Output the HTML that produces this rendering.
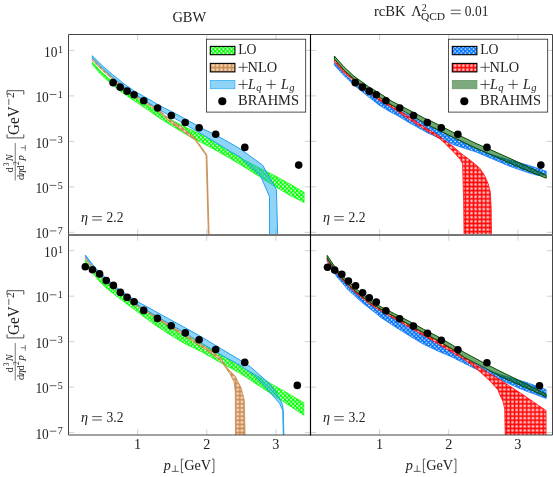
<!DOCTYPE html>
<html><head><meta charset="utf-8"><title>plot</title>
<style>
html,body{margin:0;padding:0;background:#fff;}
body{width:553px;height:477px;overflow:hidden;}
svg{display:block;will-change:transform;}
text{font-family:"Liberation Serif",serif;fill:#222;}
.it{font-style:italic;}
</style></head><body>
<svg width="553" height="477" viewBox="0 0 553 477">
<defs>
<pattern id="pg" patternUnits="userSpaceOnUse" width="4.1" height="4.1"><rect width="4.1" height="4.1" fill="#00ff00"/><circle cx="2.05" cy="0" r="0.95" fill="#f0fff0"/><circle cx="2.05" cy="4.1" r="0.95" fill="#f0fff0"/><circle cx="0" cy="2.05" r="0.95" fill="#f0fff0"/><circle cx="4.1" cy="2.05" r="0.95" fill="#f0fff0"/></pattern>
<pattern id="pb" patternUnits="userSpaceOnUse" width="4.1" height="4.1"><rect width="4.1" height="4.1" fill="#0676fa"/><circle cx="2.05" cy="0" r="0.85" fill="#dfeaff"/><circle cx="2.05" cy="4.1" r="0.85" fill="#dfeaff"/><circle cx="0" cy="2.05" r="0.85" fill="#dfeaff"/><circle cx="4.1" cy="2.05" r="0.85" fill="#dfeaff"/></pattern>
<pattern id="pn" patternUnits="userSpaceOnUse" width="4.1" height="4.1"><rect width="4.1" height="4.1" fill="#f1dac3"/><path d="M0 2.05 H4.1 M2.05 0 V4.1" stroke="#cb8b50" stroke-width="1.55"/></pattern>
<pattern id="pr" patternUnits="userSpaceOnUse" width="4.1" height="4.1"><rect width="4.1" height="4.1" fill="#ffbebe"/><path d="M0 2.05 H4.1 M2.05 0 V4.1" stroke="#ff0505" stroke-width="1.5"/></pattern>
<clipPath id="c00"><rect x="68.5" y="34.5" width="242.0" height="200.5"/></clipPath>
<clipPath id="c10"><rect x="310.5" y="34.5" width="242.0" height="200.5"/></clipPath>
<clipPath id="c01"><rect x="68.5" y="235.0" width="242.0" height="200.0"/></clipPath>
<clipPath id="c11"><rect x="310.5" y="235.0" width="242.0" height="200.0"/></clipPath>
</defs>
<rect width="553" height="477" fill="#fff"/>
<path d="M68.5 50.40 h5.7 M304.8 50.40 h11.4 M546.8 50.40 h5.7 M68.5 95.88 h5.7 M304.8 95.88 h11.4 M546.8 95.88 h5.7 M68.5 141.36 h5.7 M304.8 141.36 h11.4 M546.8 141.36 h5.7 M68.5 186.84 h5.7 M304.8 186.84 h11.4 M546.8 186.84 h5.7 M68.5 232.32 h5.7 M304.8 232.32 h11.4 M546.8 232.32 h5.7 M68.5 250.70 h5.7 M304.8 250.70 h11.4 M546.8 250.70 h5.7 M68.5 296.18 h5.7 M304.8 296.18 h11.4 M546.8 296.18 h5.7 M68.5 341.66 h5.7 M304.8 341.66 h11.4 M546.8 341.66 h5.7 M68.5 387.14 h5.7 M304.8 387.14 h11.4 M546.8 387.14 h5.7 M68.5 432.62 h5.7 M304.8 432.62 h11.4 M546.8 432.62 h5.7 M137.64 34.5 v5.7 M137.64 229.3 v11.4 M137.64 429.3 v5.7 M206.78 34.5 v5.7 M206.78 229.3 v11.4 M206.78 429.3 v5.7 M275.92 34.5 v5.7 M275.92 229.3 v11.4 M275.92 429.3 v5.7 M379.64 34.5 v5.7 M379.64 229.3 v11.4 M379.64 429.3 v5.7 M448.78 34.5 v5.7 M448.78 229.3 v11.4 M448.78 429.3 v5.7 M517.92 34.5 v5.7 M517.92 229.3 v11.4 M517.92 429.3 v5.7" stroke="#b0b0b0" stroke-width="0.6" fill="none"/>
<g clip-path="url(#c00)">
<path d="M92.30 61.80 L101.00 71.40 L109.70 79.20 L121.30 88.50 L132.80 96.20 L145.90 104.50 L160.00 113.60 L174.50 121.50 L188.90 128.80 L203.40 135.50 L217.90 144.20 L230.00 151.70 L240.00 157.60 L258.90 167.60 L273.40 174.90 L290.00 184.00 L304.10 192.30 L304.10 202.60 L290.00 195.40 L273.40 185.60 L258.90 176.30 L240.00 164.40 L230.00 158.40 L217.90 151.40 L203.40 143.60 L188.90 136.00 L174.50 127.50 L160.00 118.50 L145.90 108.60 L132.80 99.90 L121.30 92.00 L109.70 82.50 L101.00 74.60 L92.30 64.50 Z" fill="url(#pg)" stroke="#00ff00" stroke-width="0.7"/>
<path d="M92.30 58.30 L102.50 68.80 L112.60 77.80 L124.20 87.40 L135.70 95.40 L148.80 103.40 L160.00 110.80 L170.00 119.80 L182.60 127.60 L193.90 137.00 L195.60 139.20 L200.70 146.10 L206.90 155.00 L209.20 236.00 L208.35 236.00 L206.10 155.40 L199.90 146.70 L195.00 139.80 L193.90 139.40 L182.60 131.00 L170.00 122.20 L160.00 112.50 L148.80 105.10 L135.70 97.10 L124.20 89.10 L112.60 79.50 L102.50 70.50 L92.30 60.00 Z" fill="url(#pn)" stroke="#c4854a" stroke-width="0.75"/>
<path d="M92.30 55.80 L102.50 65.90 L112.60 74.60 L124.20 84.00 L135.70 92.00 L148.80 99.20 L160.00 105.80 L174.50 113.10 L188.90 121.00 L203.40 129.00 L217.90 136.20 L230.00 143.00 L240.00 148.80 L262.60 165.10 L276.40 189.60 L276.80 204.20 L277.70 236.00 L269.60 236.00 L269.50 196.50 L260.70 176.40 L240.00 156.90 L230.00 151.40 L217.90 143.80 L203.40 135.10 L188.90 126.60 L174.50 118.20 L160.00 110.20 L148.80 103.00 L135.70 95.00 L124.20 86.80 L112.60 77.20 L102.50 68.20 L92.30 57.80 Z" fill="#22aaf2" fill-opacity="0.5" stroke="#1fa2ee" stroke-width="1.0"/>
<path d="M92.30 61.80 L101.00 71.40 L109.70 79.20 L121.30 88.50 L132.80 96.20 L145.90 104.50 L160.00 113.60 L174.50 121.50 L188.90 128.80 L203.40 135.50 L217.90 144.20 L230.00 151.70 L240.00 157.60 L258.90 167.60 L273.40 174.90 L290.00 184.00 L304.10 192.30 L304.10 202.60 L290.00 195.40 L273.40 185.60 L258.90 176.30 L240.00 164.40 L230.00 158.40 L217.90 151.40 L203.40 143.60 L188.90 136.00 L174.50 127.50 L160.00 118.50 L145.90 108.60 L132.80 99.90 L121.30 92.00 L109.70 82.50 L101.00 74.60 L92.30 64.50 Z" fill="url(#pg)" fill-opacity="0.0" stroke="none"/>
<circle cx="113.10" cy="82.65" r="3.8" fill="#000"/><circle cx="120.20" cy="87.15" r="3.8" fill="#000"/><circle cx="127.10" cy="91.15" r="3.8" fill="#000"/><circle cx="134.10" cy="94.80" r="3.8" fill="#000"/><circle cx="143.75" cy="100.80" r="3.8" fill="#000"/><circle cx="157.60" cy="108.00" r="3.8" fill="#000"/><circle cx="171.35" cy="115.50" r="3.8" fill="#000"/><circle cx="185.20" cy="122.50" r="3.8" fill="#000"/><circle cx="199.15" cy="127.80" r="3.8" fill="#000"/><circle cx="215.70" cy="134.30" r="3.8" fill="#000"/><circle cx="244.80" cy="147.40" r="3.8" fill="#000"/><circle cx="298.70" cy="165.10" r="3.8" fill="#000"/>
</g>
<g clip-path="url(#c10)">
<path d="M334.40 62.60 L343.80 73.40 L353.90 82.60 L368.40 93.00 L381.70 100.60 L391.10 106.40 L405.30 113.20 L423.90 123.00 L430.70 126.50 L452.90 137.40 L475.00 147.80 L490.00 154.00 L508.90 159.80 L528.70 165.30 L546.20 171.20 L546.20 175.00 L537.00 175.20 L527.70 172.60 L508.90 166.00 L490.00 157.90 L475.00 151.60 L462.70 147.80 L453.30 144.60 L443.90 140.50 L440.00 138.60 L427.70 132.90 L418.30 127.80 L409.50 122.90 L397.70 115.80 L388.30 110.80 L378.90 105.00 L369.40 97.60 L361.90 91.50 L353.90 84.90 L343.80 75.50 L334.40 65.16 Z" fill="url(#pb)" stroke="#0a78f0" stroke-width="0.7"/>
<path d="M334.40 59.50 L343.80 70.40 L351.70 76.80 L365.00 87.50 L380.00 98.50 L392.00 105.20 L399.40 110.50 L408.90 116.90 L418.30 123.10 L427.70 129.20 L434.40 133.00 L440.00 136.70 L443.90 140.00 L453.30 146.60 L461.70 154.00 L470.40 160.30 L479.40 167.80 L484.60 175.40 L488.20 183.80 L490.30 192.20 L491.20 207.90 L491.60 236.00 L464.00 236.00 L463.60 200.00 L462.50 163.60 L460.00 159.20 L455.20 153.70 L449.50 148.00 L443.90 142.40 L440.00 138.90 L434.40 135.20 L427.70 131.40 L418.30 125.30 L408.90 119.10 L399.40 112.70 L392.00 107.40 L380.00 100.70 L365.00 89.70 L351.70 79.00 L343.80 72.60 L334.40 61.70 Z" fill="url(#pr)" stroke="#ff0000" stroke-width="0.7"/>
<path d="M334.40 56.00 L343.80 66.70 L353.90 76.10 L368.40 86.60 L381.70 94.60 L392.10 101.40 L410.00 110.60 L423.90 118.00 L430.70 120.90 L452.90 132.20 L475.00 143.00 L490.00 149.50 L508.90 157.90 L527.70 166.60 L546.20 175.20 L546.20 178.20 L527.70 170.80 L508.90 162.80 L490.00 154.30 L475.00 147.80 L452.90 137.20 L430.70 126.30 L423.90 122.60 L405.30 112.00 L391.10 104.80 L381.70 98.60 L368.40 90.40 L353.90 79.60 L343.80 70.00 L334.40 59.00 Z" fill="#006400" fill-opacity="0.56" stroke="#004a00" stroke-width="1.0"/>
<circle cx="355.25" cy="82.65" r="3.8" fill="#000"/><circle cx="362.35" cy="87.15" r="3.8" fill="#000"/><circle cx="369.25" cy="91.15" r="3.8" fill="#000"/><circle cx="376.25" cy="94.80" r="3.8" fill="#000"/><circle cx="385.90" cy="100.80" r="3.8" fill="#000"/><circle cx="399.75" cy="108.00" r="3.8" fill="#000"/><circle cx="413.50" cy="115.50" r="3.8" fill="#000"/><circle cx="427.35" cy="122.50" r="3.8" fill="#000"/><circle cx="441.30" cy="127.80" r="3.8" fill="#000"/><circle cx="457.85" cy="134.30" r="3.8" fill="#000"/><circle cx="486.95" cy="147.40" r="3.8" fill="#000"/><circle cx="540.85" cy="165.10" r="3.8" fill="#000"/>
</g>
<g clip-path="url(#c01)">
<path d="M85.30 260.20 L88.00 264.60 L92.70 270.20 L98.90 276.20 L104.20 279.60 L113.40 287.00 L127.90 298.60 L140.00 307.60 L154.50 317.00 L168.90 326.00 L183.40 334.20 L200.00 342.40 L221.20 355.10 L240.00 366.00 L263.50 379.40 L284.60 391.40 L303.80 402.70 L303.80 415.20 L284.60 402.60 L263.50 388.80 L240.00 373.30 L221.20 363.00 L200.00 351.00 L183.40 343.00 L168.90 334.10 L154.50 324.70 L140.00 313.80 L127.90 304.80 L117.80 297.30 L112.60 293.10 L105.30 287.30 L99.00 281.00 L94.20 274.70 L85.30 262.20 Z" fill="url(#pg)" stroke="#00ff00" stroke-width="0.7"/>
<path d="M85.30 257.20 L89.30 263.00 L92.70 267.60 L98.90 274.00 L113.40 286.00 L127.90 297.20 L140.00 306.40 L154.50 315.10 L168.90 324.40 L183.40 333.10 L197.90 342.40 L212.30 351.40 L221.20 358.30 L225.20 365.80 L235.20 376.20 L241.30 388.30 L244.30 400.40 L245.10 436.00 L235.50 436.00 L235.30 392.00 L234.20 382.30 L230.20 374.20 L221.20 361.30 L212.30 354.00 L197.90 344.60 L183.40 335.10 L168.90 326.40 L154.50 316.90 L140.00 308.20 L127.90 299.00 L113.40 287.80 L98.90 275.40 L92.70 268.80 L89.30 264.20 L85.30 258.40 Z" fill="url(#pn)" stroke="#c4854a" stroke-width="0.75"/>
<path d="M85.30 255.00 L92.70 264.50 L98.90 272.00 L104.20 276.40 L117.30 288.00 L127.90 295.40 L140.00 303.00 L154.50 310.90 L168.90 318.90 L183.40 326.80 L197.90 334.80 L221.20 348.80 L240.00 360.10 L250.30 366.70 L262.00 377.00 L269.40 383.60 L276.70 393.20 L282.60 404.90 L283.20 410.80 L283.90 436.00 L283.30 436.00 L282.80 410.80 L279.60 403.40 L273.80 396.80 L265.00 386.60 L254.70 375.50 L240.00 365.30 L221.20 355.00 L197.90 341.00 L183.40 332.00 L168.90 323.40 L154.50 315.00 L140.00 306.50 L127.90 298.00 L117.30 290.40 L104.20 278.60 L98.90 274.00 L92.70 265.80 L85.30 256.30 Z" fill="#22aaf2" fill-opacity="0.5" stroke="#1fa2ee" stroke-width="1.0"/>
<circle cx="85.30" cy="266.80" r="3.8" fill="#000"/><circle cx="92.45" cy="269.70" r="3.8" fill="#000"/><circle cx="99.60" cy="273.90" r="3.8" fill="#000"/><circle cx="106.25" cy="280.60" r="3.8" fill="#000"/><circle cx="113.40" cy="285.40" r="3.8" fill="#000"/><circle cx="120.40" cy="292.40" r="3.8" fill="#000"/><circle cx="127.10" cy="297.40" r="3.8" fill="#000"/><circle cx="134.10" cy="301.70" r="3.8" fill="#000"/><circle cx="143.70" cy="310.40" r="3.8" fill="#000"/><circle cx="157.40" cy="318.40" r="3.8" fill="#000"/><circle cx="171.20" cy="325.70" r="3.8" fill="#000"/><circle cx="185.30" cy="332.90" r="3.8" fill="#000"/><circle cx="199.10" cy="339.80" r="3.8" fill="#000"/><circle cx="215.70" cy="349.45" r="3.8" fill="#000"/><circle cx="244.75" cy="362.40" r="3.8" fill="#000"/><circle cx="297.30" cy="385.40" r="3.8" fill="#000"/>
</g>
<g clip-path="url(#c11)">
<path d="M327.20 259.20 L333.70 268.60 L341.00 277.60 L355.00 291.40 L369.00 302.50 L380.00 309.40 L394.50 317.40 L408.90 325.40 L423.40 333.70 L437.90 341.60 L452.30 350.00 L464.20 358.20 L485.30 369.00 L500.00 374.60 L526.20 382.30 L546.10 389.60 L546.10 398.50 L520.90 389.10 L500.00 379.70 L485.30 373.00 L475.00 368.70 L464.20 363.30 L452.30 357.20 L437.90 351.10 L423.40 344.20 L408.90 335.50 L394.50 326.55 L380.00 316.90 L375.70 313.20 L362.60 303.00 L348.20 290.00 L336.60 276.55 L327.20 261.60 Z" fill="url(#pb)" stroke="#0a78f0" stroke-width="0.7"/>
<path d="M327.20 258.20 L333.70 267.70 L341.00 276.80 L355.00 290.60 L369.00 301.70 L380.00 308.60 L394.50 316.50 L408.90 324.40 L423.40 332.70 L437.90 340.60 L452.30 349.00 L464.20 357.20 L485.30 371.00 L500.00 379.70 L520.90 393.30 L546.10 410.60 L546.10 436.00 L505.20 436.00 L504.70 409.00 L503.10 401.70 L500.00 395.40 L498.00 390.00 L489.50 380.50 L479.00 371.00 L471.00 364.40 L464.20 359.60 L452.30 352.50 L437.90 343.80 L423.40 335.50 L408.90 327.00 L394.50 318.80 L380.00 310.60 L369.00 303.60 L355.00 292.40 L341.00 278.50 L333.70 269.50 L327.20 260.20 Z" fill="url(#pr)" stroke="#ff0000" stroke-width="0.7"/>
<path d="M327.20 255.40 L333.70 265.15 L341.00 274.30 L355.00 287.90 L369.00 299.20 L380.00 306.30 L394.50 313.75 L408.90 321.10 L423.40 329.20 L437.90 336.60 L452.30 345.00 L464.20 352.40 L485.30 363.70 L500.00 371.20 L527.60 384.60 L546.10 394.30 L546.10 396.90 L527.60 388.40 L500.00 376.30 L485.30 368.20 L464.20 357.40 L452.30 349.20 L437.90 340.80 L423.40 332.90 L408.90 324.60 L394.50 316.70 L380.00 308.80 L369.00 301.90 L355.00 290.80 L341.00 277.00 L333.70 267.90 L327.20 258.40 Z" fill="#006400" fill-opacity="0.56" stroke="#004a00" stroke-width="1.0"/>
<circle cx="327.50" cy="267.20" r="3.8" fill="#000"/><circle cx="334.65" cy="270.10" r="3.8" fill="#000"/><circle cx="341.80" cy="274.30" r="3.8" fill="#000"/><circle cx="348.45" cy="281.00" r="3.8" fill="#000"/><circle cx="355.60" cy="285.80" r="3.8" fill="#000"/><circle cx="362.60" cy="292.80" r="3.8" fill="#000"/><circle cx="369.30" cy="297.80" r="3.8" fill="#000"/><circle cx="376.30" cy="302.10" r="3.8" fill="#000"/><circle cx="385.90" cy="310.80" r="3.8" fill="#000"/><circle cx="399.60" cy="318.80" r="3.8" fill="#000"/><circle cx="413.40" cy="326.10" r="3.8" fill="#000"/><circle cx="427.50" cy="333.30" r="3.8" fill="#000"/><circle cx="441.30" cy="340.20" r="3.8" fill="#000"/><circle cx="457.90" cy="349.85" r="3.8" fill="#000"/><circle cx="486.95" cy="362.80" r="3.8" fill="#000"/><circle cx="539.50" cy="385.80" r="3.8" fill="#000"/>
</g>
<path d="M68.5 34.5 H552.5 M68.5 435.0 H552.5 M68.5 34.5 V435.0 M552.5 34.5 V435.0" stroke="#444" stroke-width="1" fill="none"/>
<path d="M68.5 235.0 H552.5" stroke="#767676" stroke-width="2" fill="none"/>
<path d="M310.5 34.0 V435.5" stroke="#000" stroke-width="1.15" fill="none"/>
<text x="80.9" y="221.6" font-size="14.2" class="it">η</text>
<path d="M92.2 216.6 H101.80000000000001 M92.2 220.0 H101.80000000000001" stroke="#222" stroke-width="0.75" fill="none"/>
<text x="106.5" y="221.6" font-size="14.2" lengthAdjust="spacingAndGlyphs" textLength="17.0">2.2</text>
<text x="322.9" y="221.6" font-size="14.2" class="it">η</text>
<path d="M334.2 216.6 H343.79999999999995 M334.2 220.0 H343.79999999999995" stroke="#222" stroke-width="0.75" fill="none"/>
<text x="348.5" y="221.6" font-size="14.2" lengthAdjust="spacingAndGlyphs" textLength="17.0">2.2</text>
<text x="80.9" y="421.6" font-size="14.2" class="it">η</text>
<path d="M92.2 416.6 H101.80000000000001 M92.2 420.0 H101.80000000000001" stroke="#222" stroke-width="0.75" fill="none"/>
<text x="106.5" y="421.6" font-size="14.2" lengthAdjust="spacingAndGlyphs" textLength="17.0">3.2</text>
<text x="322.9" y="421.6" font-size="14.2" class="it">η</text>
<path d="M334.2 416.6 H343.79999999999995 M334.2 420.0 H343.79999999999995" stroke="#222" stroke-width="0.75" fill="none"/>
<text x="348.5" y="421.6" font-size="14.2" lengthAdjust="spacingAndGlyphs" textLength="17.0">3.2</text>
<rect x="206.4" y="39.2" width="99.3" height="72.9" fill="#fff" stroke="#262626" stroke-width="0.8"/>
<rect x="210.3" y="46.4" width="24.6" height="8.3" fill="url(#pg)" stroke="#000" stroke-width="1.1"/>
<rect x="210.3" y="63.4" width="24.6" height="8.5" fill="url(#pn)" stroke="#000" stroke-width="1.1"/>
<rect x="210.3" y="80.4" width="24.6" height="8.3" fill="#8fd3f7" stroke="#3aaff0" stroke-width="0.8"/>
<circle cx="222.3" cy="101.3" r="4.05" fill="#000"/>
<text x="238.20000000000002" y="53.8" font-size="13.9" lengthAdjust="spacingAndGlyphs" textLength="18.3">LO</text>
<path d="M238.40 67.3 H247.80 M243.10000000000002 62.60 V72.00" stroke="#222" stroke-width="0.75" fill="none"/>
<text x="247.50000000000003" y="71.5" font-size="13.9" lengthAdjust="spacingAndGlyphs" textLength="29.6">NLO</text>
<path d="M238.40 84.5 H247.80 M243.10000000000002 79.80 V89.20" stroke="#222" stroke-width="0.75" fill="none"/>
<text x="248.10000000000002" y="88.7" font-size="14.2" class="it">L</text>
<text x="256.3" y="91.3" font-size="10.6" class="it">q</text>
<path d="M266.40 84.5 H275.80 M271.1 79.80 V89.20" stroke="#222" stroke-width="0.75" fill="none"/>
<text x="281.0" y="88.7" font-size="14.2" class="it">L</text>
<text x="289.3" y="91.3" font-size="10.6" class="it">g</text>
<text x="238.00000000000003" y="104.8" font-size="14.0" lengthAdjust="spacingAndGlyphs" textLength="61.0">BRAHMS</text>
<rect x="448.4" y="39.2" width="99.3" height="72.9" fill="#fff" stroke="#262626" stroke-width="0.8"/>
<rect x="452.29999999999995" y="46.4" width="24.6" height="8.3" fill="url(#pb)" stroke="#000" stroke-width="1.1"/>
<rect x="452.29999999999995" y="63.4" width="24.6" height="8.5" fill="url(#pr)" stroke="#000" stroke-width="1.1"/>
<rect x="452.29999999999995" y="80.4" width="24.6" height="8.3" fill="#7daa7d" stroke="#689a68" stroke-width="0.8"/>
<circle cx="464.29999999999995" cy="101.3" r="4.05" fill="#000"/>
<text x="480.2" y="53.8" font-size="13.9" lengthAdjust="spacingAndGlyphs" textLength="18.3">LO</text>
<path d="M480.40 67.3 H489.80 M485.09999999999997 62.60 V72.00" stroke="#222" stroke-width="0.75" fill="none"/>
<text x="489.5" y="71.5" font-size="13.9" lengthAdjust="spacingAndGlyphs" textLength="29.6">NLO</text>
<path d="M480.40 84.5 H489.80 M485.09999999999997 79.80 V89.20" stroke="#222" stroke-width="0.75" fill="none"/>
<text x="490.09999999999997" y="88.7" font-size="14.2" class="it">L</text>
<text x="498.3" y="91.3" font-size="10.6" class="it">q</text>
<path d="M508.40 84.5 H517.80 M513.1 79.80 V89.20" stroke="#222" stroke-width="0.75" fill="none"/>
<text x="523.0" y="88.7" font-size="14.2" class="it">L</text>
<text x="531.3" y="91.3" font-size="10.6" class="it">g</text>
<text x="480.0" y="104.8" font-size="14.0" lengthAdjust="spacingAndGlyphs" textLength="61.0">BRAHMS</text>
<text x="172.4" y="21.6" font-size="14.2" lengthAdjust="spacingAndGlyphs" textLength="33.8">GBW</text>
<text x="374.0" y="15.7" font-size="14.4" lengthAdjust="spacingAndGlyphs" textLength="31.6">rcBK</text>
<text x="411.2" y="15.7" font-size="14.4" >Λ</text>
<text x="421.7" y="10.8" font-size="10" >2</text>
<text x="420.9" y="19.7" font-size="9.8" lengthAdjust="spacingAndGlyphs" textLength="24.2">QCD</text>
<path d="M450.8 10.2 H460.7 M450.8 13.7 H460.7" stroke="#222" stroke-width="0.75" fill="none"/>
<text x="464.8" y="15.8" font-size="14.2" lengthAdjust="spacingAndGlyphs" textLength="23.6">0.01</text>
<text x="44.1" y="56.5" font-size="14.2" lengthAdjust="spacingAndGlyphs" textLength="13.4">10</text>
<text x="57.9" y="52.5" font-size="10" >1</text>
<text x="35.4" y="102.0" font-size="14.2" lengthAdjust="spacingAndGlyphs" textLength="13.4">10</text>
<path d="M49.7 94.5 H56.4" stroke="#222" stroke-width="0.7"/>
<text x="57.8" y="97.6" font-size="10" >1</text>
<text x="35.4" y="147.5" font-size="14.2" lengthAdjust="spacingAndGlyphs" textLength="13.4">10</text>
<path d="M49.7 140.0 H56.4" stroke="#222" stroke-width="0.7"/>
<text x="57.8" y="143.1" font-size="10" >3</text>
<text x="35.4" y="192.9" font-size="14.2" lengthAdjust="spacingAndGlyphs" textLength="13.4">10</text>
<path d="M49.7 185.4 H56.4" stroke="#222" stroke-width="0.7"/>
<text x="57.8" y="188.5" font-size="10" >5</text>
<text x="35.4" y="238.4" font-size="14.2" lengthAdjust="spacingAndGlyphs" textLength="13.4">10</text>
<path d="M49.7 230.9 H56.4" stroke="#222" stroke-width="0.7"/>
<text x="57.8" y="234.0" font-size="10" >7</text>
<text x="44.1" y="256.8" font-size="14.2" lengthAdjust="spacingAndGlyphs" textLength="13.4">10</text>
<text x="57.9" y="252.8" font-size="10" >1</text>
<text x="35.4" y="302.3" font-size="14.2" lengthAdjust="spacingAndGlyphs" textLength="13.4">10</text>
<path d="M49.7 294.8 H56.4" stroke="#222" stroke-width="0.7"/>
<text x="57.8" y="297.9" font-size="10" >1</text>
<text x="35.4" y="347.8" font-size="14.2" lengthAdjust="spacingAndGlyphs" textLength="13.4">10</text>
<path d="M49.7 340.3 H56.4" stroke="#222" stroke-width="0.7"/>
<text x="57.8" y="343.4" font-size="10" >3</text>
<text x="35.4" y="393.2" font-size="14.2" lengthAdjust="spacingAndGlyphs" textLength="13.4">10</text>
<path d="M49.7 385.7 H56.4" stroke="#222" stroke-width="0.7"/>
<text x="57.8" y="388.8" font-size="10" >5</text>
<text x="35.4" y="438.7" font-size="14.2" lengthAdjust="spacingAndGlyphs" textLength="13.4">10</text>
<path d="M49.7 431.2 H56.4" stroke="#222" stroke-width="0.7"/>
<text x="57.8" y="434.3" font-size="10" >7</text>
<text x="137.6" y="449.3" font-size="14.2" text-anchor="middle">1</text>
<text x="206.8" y="449.3" font-size="14.2" text-anchor="middle">2</text>
<text x="275.9" y="449.3" font-size="14.2" text-anchor="middle">3</text>
<text x="379.6" y="449.3" font-size="14.2" text-anchor="middle">1</text>
<text x="448.8" y="449.3" font-size="14.2" text-anchor="middle">2</text>
<text x="517.9" y="449.3" font-size="14.2" text-anchor="middle">3</text>
<g transform="translate(0,0)">
<text x="163.7" y="469.9" font-size="14.2" class="it">p</text>
<path d="M171.7 471.4 H178.7 M175.2 471.4 V465.4" stroke="#222" stroke-width="0.7" fill="none"/>
<path d="M183.4 459.1 H181.4 V472.6 H183.4 M211.9 459.1 H213.9 V472.6 H211.9" stroke="#222" stroke-width="0.75" fill="none"/>
<text x="184.2" y="469.9" font-size="14.1" lengthAdjust="spacingAndGlyphs" textLength="27.0">GeV</text>
</g>
<g transform="translate(242,0)">
<text x="163.7" y="469.9" font-size="14.2" class="it">p</text>
<path d="M171.7 471.4 H178.7 M175.2 471.4 V465.4" stroke="#222" stroke-width="0.7" fill="none"/>
<path d="M183.4 459.1 H181.4 V472.6 H183.4 M211.9 459.1 H213.9 V472.6 H211.9" stroke="#222" stroke-width="0.75" fill="none"/>
<text x="184.2" y="469.9" font-size="14.1" lengthAdjust="spacingAndGlyphs" textLength="27.0">GeV</text>
</g>
<g transform="translate(0,0)">
<path d="M7.0 94.6 V90.7 H23.8 V94.6 M7.0 134.4 V137.9 H23.8 V134.4" stroke="#222" stroke-width="0.8" fill="none"/>
<text transform="translate(19.3,135.0) rotate(-90)" font-size="16.2" lengthAdjust="spacingAndGlyphs" textLength="28.6">GeV</text>
<path d="M8.8 104.9 V99.0" stroke="#222" stroke-width="0.7"/>
<text transform="translate(13.8,98.0) rotate(-90)" font-size="11.2" >2</text>
<path d="M15.25 143.0 V180.4" stroke="#222" stroke-width="0.6"/>
<text transform="translate(13.0,172.4) rotate(-90)" font-size="10.4" >d</text>
<text transform="translate(8.7,166.3) rotate(-90)" font-size="7.6" >3</text>
<text transform="translate(13.0,161.2) rotate(-90)" font-size="10.4" class="it">N</text>
<text transform="translate(23.5,180.1) rotate(-90)" font-size="10.4" >d</text>
<text transform="translate(23.5,175.3) rotate(-90)" font-size="10.4" class="it">η</text>
<text transform="translate(23.5,170.5) rotate(-90)" font-size="10.4" >d</text>
<text transform="translate(19.3,164.9) rotate(-90)" font-size="7.6" >2</text>
<text transform="translate(23.5,160.6) rotate(-90)" font-size="10.6" class="it">p</text>
<path d="M25.3 150.6 V144.9 M25.3 147.75 H20.6" stroke="#222" stroke-width="0.6" fill="none"/>
</g>
<g transform="translate(0,200)">
<path d="M7.0 94.6 V90.7 H23.8 V94.6 M7.0 134.4 V137.9 H23.8 V134.4" stroke="#222" stroke-width="0.8" fill="none"/>
<text transform="translate(19.3,135.0) rotate(-90)" font-size="16.2" lengthAdjust="spacingAndGlyphs" textLength="28.6">GeV</text>
<path d="M8.8 104.9 V99.0" stroke="#222" stroke-width="0.7"/>
<text transform="translate(13.8,98.0) rotate(-90)" font-size="11.2" >2</text>
<path d="M15.25 143.0 V180.4" stroke="#222" stroke-width="0.6"/>
<text transform="translate(13.0,172.4) rotate(-90)" font-size="10.4" >d</text>
<text transform="translate(8.7,166.3) rotate(-90)" font-size="7.6" >3</text>
<text transform="translate(13.0,161.2) rotate(-90)" font-size="10.4" class="it">N</text>
<text transform="translate(23.5,180.1) rotate(-90)" font-size="10.4" >d</text>
<text transform="translate(23.5,175.3) rotate(-90)" font-size="10.4" class="it">η</text>
<text transform="translate(23.5,170.5) rotate(-90)" font-size="10.4" >d</text>
<text transform="translate(19.3,164.9) rotate(-90)" font-size="7.6" >2</text>
<text transform="translate(23.5,160.6) rotate(-90)" font-size="10.6" class="it">p</text>
<path d="M25.3 150.6 V144.9 M25.3 147.75 H20.6" stroke="#222" stroke-width="0.6" fill="none"/>
</g>
</svg>
</body></html>
